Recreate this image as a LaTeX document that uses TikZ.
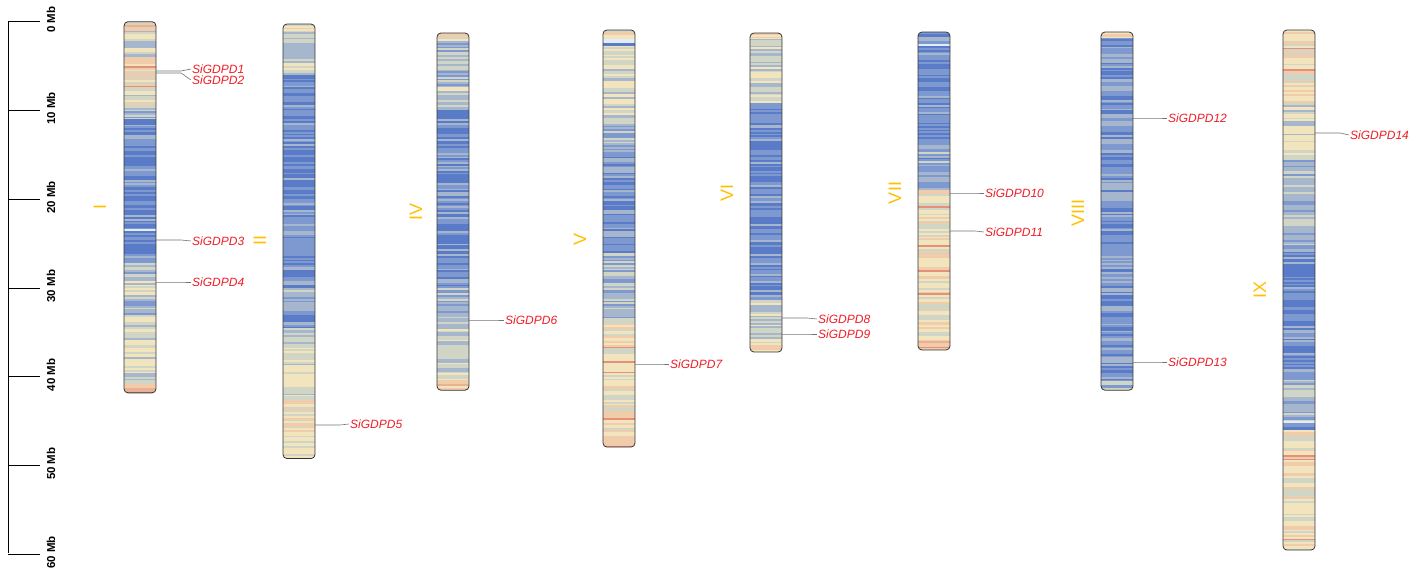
\documentclass[tikz,border=0pt]{standalone}
\usepackage{fontspec}
\setmainfont{Liberation Sans}
\definecolor{p0}{HTML}{E6907C}
\definecolor{p1}{HTML}{EAB094}
\definecolor{p2}{HTML}{F0CCAA}
\definecolor{p3}{HTML}{F2E4BC}
\definecolor{p4}{HTML}{D0D5C6}
\definecolor{p5}{HTML}{A6B6CC}
\definecolor{p6}{HTML}{7D99D0}
\definecolor{p7}{HTML}{5A7CC8}
\definecolor{p8}{HTML}{E3ECF9}
\definecolor{genered}{HTML}{EE1C25}
\definecolor{gold}{HTML}{FFC000}
\tikzset{
 chromborder/.style={draw=black!80, line width=0.8pt, rounded corners=4pt},
 gene/.style={font=\fontsize{12}{12}\selectfont\itshape, text=genered, inner sep=1pt, anchor=west},
 leader/.style={draw=black!55, line width=0.6pt},
 roman/.style={font=\fontsize{18}{18}\selectfont, text=gold, rotate=90, inner sep=0pt},
 axislbl/.style={font=\fontsize{11.5}{11.5}\selectfont\bfseries, rotate=90, inner sep=0pt},
 axisline/.style={draw=black, line width=1pt}
}
\newcommand\chromo[4]{%
 \begin{scope}[shift={(0,21.7)}, y=-8.88pt]
  \begin{scope}
   \clip[rounded corners=4pt] (#1,#2) rectangle (#1+32,#3);
   \foreach \a/\b/\v in {#4} {
     \pgfmathtruncatemacro\n{ceil((\b-\a)/0.2)}
     \foreach \k in {1,...,\n} {
       \pgfmathsetmacro\yy{\a+(\k-1)*0.2}
       \pgfmathsetmacro\rr{rnd}
       \pgfmathtruncatemacro\c{(\rr<0.03 && \v<3.6) ? 0 : max(0,min(8,round(\v+2.4*(rnd-0.5))))}
       \fill[p\c] (#1,\yy) rectangle ++(32,0.23);
     }
   }
  \end{scope}
  \draw[chromborder] (#1,#2) rectangle (#1+32,#3);
 \end{scope}
}
\begin{document}
\begin{tikzpicture}[x=1pt,y=-1pt]
\useasboundingbox (0,0) rectangle (1417,577);
\pgfmathsetseed{17}
% scale axis
\coordinate (ax0) at (8,21.7);
\coordinate (ax6) at (8,553);
\draw[axisline] (ax0) -- (ax6);
\foreach \i in {0,...,6} {
  \pgfmathsetmacro\ty{21.7+88.8*\i}
  \pgfmathtruncatemacro\lab{10*\i}
  \coordinate (tk\i) at (8,\ty);
  \draw[axisline] (tk\i) -- ++(32,0);
  \node[axislbl] (tl\i) at (51,\ty-2) {\lab{} Mb};
}
% chromosomes
\chromo{124}{0}{41.8}{0/1/2.5, 1/4/4.2, 4/6/3, 6/9.5/3.4, 9.5/11/4.8, 11/13/5.8, 13/27/6.4, 27/29/5, 29/31/3.8, 31/33/5, 33/40.8/3.6, 40.8/41.8/1.5}
\chromo{283}{0.26}{49.2}{0.26/1/2.8, 1/6/4.3, 6/30/6.3, 30/33/5.3, 33/34.5/6.2, 34.5/36.5/4.5, 36.5/42/3.7, 42/48.3/2.8, 48.3/49.2/3.2}
\chromo{437}{1.27}{41.5}{1.27/2/2.5, 2/8/4.5, 8/10/5.3, 10/30/6.2, 30/33/5, 33/40.2/4.3, 40.2/41.5/2.6}
\chromo{603}{0.93}{47.9}{0.93/2/3, 2/2.7/7.3, 2.7/10.7/3.6, 10.7/15.2/5, 15.2/26/6.2, 26/33.6/5, 33.6/46.8/3.2, 46.8/47.9/1.5}
\chromo{750}{1.27}{37.2}{1.27/1.9/2.2, 1.9/9.2/4.2, 9.2/31.3/6.3, 31.3/36.2/4.3, 36.2/37.2/2.2}
\chromo{918}{1.16}{36.97}{1.16/13.3/6.4, 13.3/19/5.4, 19/36/3.2, 36/36.97/1.2}
\chromo{1101}{1.16}{41.5}{1.16/1.8/3, 1.8/40.5/5.9, 40.5/41.5/4.5}
\chromo{1283}{0.93}{59.5}{0.93/9.2/2.7, 9.2/15.6/3.8, 15.6/25.7/5, 25.7/40.3/6.2, 40.3/45/5, 45/46/7, 46/59.5/3.2}
% roman numerals
\node[roman] (rI) at (100,207) {I};
\node[roman] (rII) at (260,241) {II};
\node[roman] (rIV) at (416,212) {IV};
\node[roman] (rV) at (580,239) {V};
\node[roman] (rVI) at (727,193) {VI};
\node[roman] (rVII) at (895,193) {VII};
\node[roman] (rVIII) at (1078,213) {VIII};
\node[roman] (rIX) at (1260,290) {IX};
% gene labels
\node[gene] (g1) at (191,69) {SiGDPD1};
\node[gene] (g2) at (191,80) {SiGDPD2};
\node[gene] (g3) at (191,241) {SiGDPD3};
\node[gene] (g4) at (191,282) {SiGDPD4};
\node[gene] (g5) at (349,424) {SiGDPD5};
\node[gene] (g6) at (504,320) {SiGDPD6};
\node[gene] (g7) at (669,364) {SiGDPD7};
\node[gene] (g8) at (817,319) {SiGDPD8};
\node[gene] (g9) at (817,334) {SiGDPD9};
\node[gene] (g10) at (984,193) {SiGDPD10};
\node[gene] (g11) at (984,232) {SiGDPD11};
\node[gene] (g12) at (1167,118) {SiGDPD12};
\node[gene] (g13) at (1167,362) {SiGDPD13};
\node[gene] (g14) at (1349,135) {SiGDPD14};
% gene positions on chromosomes
\coordinate (c1) at (156,71);
\coordinate (c2) at (156,73);
\coordinate (c3) at (156,240);
\coordinate (c4) at (156,282);
\coordinate (c5) at (315,425);
\coordinate (c6) at (469,320);
\coordinate (c7) at (635,364);
\coordinate (c8) at (782,318);
\coordinate (c9) at (782,334);
\coordinate (c10) at (950,193);
\coordinate (c11) at (950,231);
\coordinate (c12) at (1133,118);
\coordinate (c13) at (1133,362);
\coordinate (c14) at (1315,133);
\foreach \i in {1,...,14} {
  \draw[leader] (c\i) -- ++(25,0) -- (g\i.west);
}
\end{tikzpicture}
\end{document}
